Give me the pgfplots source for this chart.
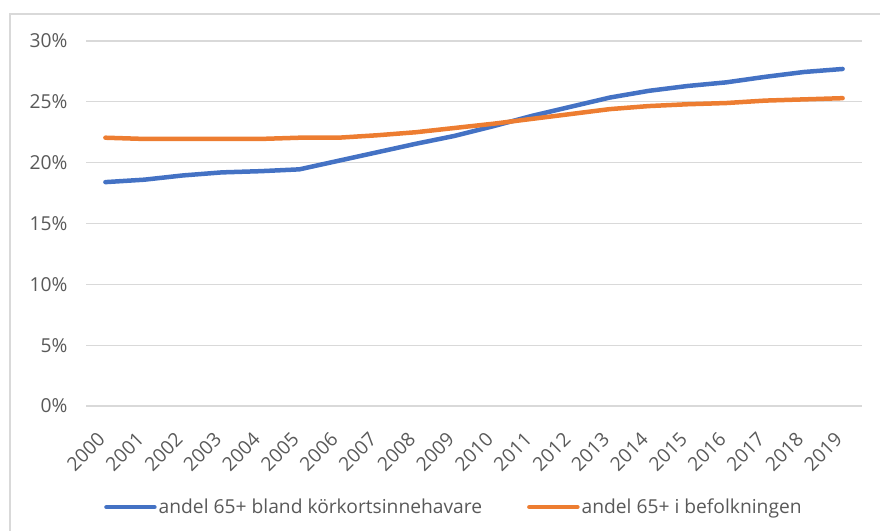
\documentclass[border=0pt]{standalone}
\usepackage{pgfplots}
\pgfplotsset{compat=1.18}
\usepackage{fontspec}
\setmainfont{Open Sans}
\definecolor{cblue}{HTML}{4472C4}
\definecolor{corange}{HTML}{ED7D31}
\definecolor{cgrid}{HTML}{D9D9D9}
\definecolor{ctext}{HTML}{595959}
\definecolor{cborder}{HTML}{D9D9D9}
\begin{document}
\begin{tikzpicture}[x=1bp,y=1bp]
\path[use as bounding box] (0,0) rectangle (880,531);
\draw[cborder, line width=1.2bp] (10,0) -- (10,517) -- (880,517);
\begin{axis}[
  at={(86bp,125bp)}, anchor=south west,
  scale only axis, width=776bp, height=365bp,
  xmin=-0.5, xmax=19.5, ymin=0, ymax=30,
  axis line style={draw=none},
  ytick={0,5,...,30},
  yticklabel={\pgfmathprintnumber{\tick}\%},
  xtick={0,...,19},
  xticklabels={2000,2001,2002,2003,2004,2005,2006,2007,2008,2009,2010,2011,2012,2013,2014,2015,2016,2017,2018,2019},
  major tick length=0pt,
  ymajorgrids, major grid style={cgrid, line width=1.2bp},
  tick label style={font=\fontsize{19.3}{22}\selectfont, text=ctext},
  /pgf/number format/assume math mode=true,
  yticklabel style={xshift=-15bp},
  xticklabel style={xshift=-9bp, yshift=-25bp, rotate=45, anchor=north east, inner sep=0pt},
  legend columns=2,
  legend style={at={(0.0232,-0.277)}, anchor=west, draw=none, fill=none,
    font=\fontsize{19.3}{22}\selectfont, text=ctext, inner sep=0pt,
    /tikz/every even column/.append style={column sep=43bp}},
  legend cell align=left,
  legend image code/.code={\draw[#1, line width=4.5bp, line cap=round] (0bp,0bp) -- (48bp,0bp);},
]
\addplot[cblue, line width=4.5bp, line cap=round, line join=round] coordinates {
(0,18.4) (1,18.6) (2,18.95) (3,19.2) (4,19.3) (5,19.45) (6,20.15) (7,20.85) (8,21.55) (9,22.2) (10,23.0) (11,23.85) (12,24.6) (13,25.35) (14,25.9) (15,26.3) (16,26.6) (17,27.05) (18,27.45) (19,27.7)
};
\addlegendentry{andel 65+ bland körkortsinnehavare}
\addplot[corange, line width=4.5bp, line cap=round, line join=round] coordinates {
(0,22.05) (1,21.95) (2,21.95) (3,21.95) (4,21.95) (5,22.05) (6,22.05) (7,22.25) (8,22.5) (9,22.85) (10,23.2) (11,23.6) (12,24.0) (13,24.4) (14,24.65) (15,24.8) (16,24.9) (17,25.1) (18,25.2) (19,25.3)
};
\addlegendentry{andel 65+ i befolkningen}
\end{axis}
\end{tikzpicture}
\end{document}
